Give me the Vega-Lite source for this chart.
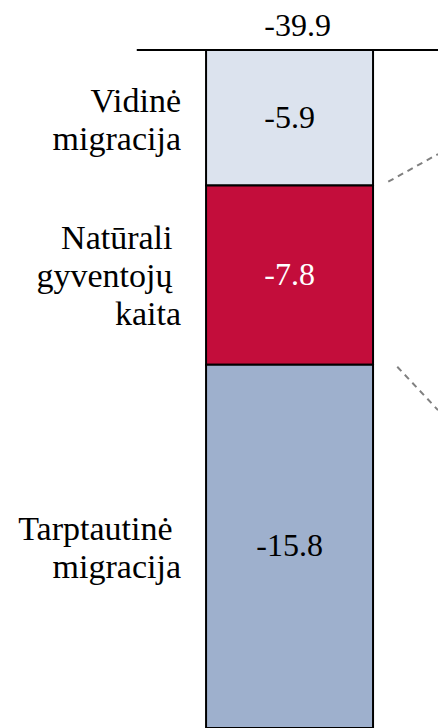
{
  "$schema": "https://vega.github.io/schema/vega-lite/v6.json",
  "width": 438,
  "height": 678,
  "autosize": "none",
  "padding": {"top": 50, "left": 0, "right": 0, "bottom": 0},
  "background": "white",
  "config": {"view": {"stroke": null}, "font": "Liberation Serif"},
  "datasets": {
    "segments": [
      {"cat": "Vidinė migracija", "label": "Vidinė\nmigracija", "value": -5.9, "order": 1},
      {"cat": "Natūrali gyventojų kaita", "label": "Natūrali\u00a0\u200b\ngyventojų\u00a0\u200b\nkaita", "value": -7.8, "order": 2},
      {"cat": "Tarptautinė migracija", "label": "Tarptautinė\u00a0\u200b\nmigracija", "value": -15.8, "order": 3}
    ],
    "total": [{"value": -39.9}],
    "connectors": [
      {"line": "a", "x": 1.091, "y": -5.73},
      {"line": "a", "x": 1.389, "y": -4.53},
      {"line": "b", "x": 1.145, "y": -13.78},
      {"line": "b", "x": 1.389, "y": -15.67}
    ]
  },
  "layer": [
    {
      "data": {"name": "segments"},
      "transform": [
        {"stack": "value", "groupby": [], "sort": [{"field": "order"}], "as": ["v0", "v1"]}
      ],
      "mark": {"type": "bar", "stroke": "black", "strokeWidth": 2},
      "encoding": {
        "x": {"datum": 0, "type": "quantitative", "scale": {"domain": [-1.234, 1.389], "nice": false, "zero": false}, "axis": null},
        "x2": {"datum": 1},
        "y": {"field": "v0", "type": "quantitative", "scale": {"domain": [-29.5, 0], "nice": false}, "axis": null},
        "y2": {"field": "v1"},
        "color": {
          "field": "cat",
          "type": "nominal",
          "scale": {
            "domain": ["Vidinė migracija", "Natūrali gyventojų kaita", "Tarptautinė migracija"],
            "range": ["#DCE3EE", "#C30D3B", "#9EB0CD"]
          },
          "legend": null
        }
      }
    },
    {
      "data": {"name": "segments"},
      "transform": [
        {"stack": "value", "groupby": [], "sort": [{"field": "order"}], "as": ["v0", "v1"]},
        {"fold": ["v0", "v1"], "as": ["k", "pos"]},
        {"aggregate": [{"op": "mean", "field": "pos", "as": "mid"}], "groupby": ["cat", "label", "value"]}
      ],
      "layer": [
        {
          "mark": {"type": "text", "fontSize": 32, "baseline": "middle", "align": "center"},
          "encoding": {
            "x": {"datum": 0.5, "type": "quantitative", "scale": {"domain": [-1.234, 1.389], "nice": false, "zero": false}, "axis": null},
            "y": {"field": "mid", "type": "quantitative", "scale": {"domain": [-29.5, 0], "nice": false}, "axis": null},
            "text": {"field": "value", "type": "nominal"},
            "color": {
              "condition": {"test": "datum.cat === 'Natūrali gyventojų kaita'", "value": "white"},
              "value": "black"
            }
          }
        },
        {
          "transform": [{"filter": "datum.cat !== 'Natūrali gyventojų kaita'"}],
          "mark": {"type": "text", "fontSize": 34, "baseline": "middle", "align": "right", "lineBreak": "\n", "lineHeight": 38, "dy": -16, "color": "black"},
          "encoding": {
            "x": {"datum": -0.15, "type": "quantitative", "scale": {"domain": [-1.234, 1.389], "nice": false, "zero": false}, "axis": null},
            "y": {"field": "mid", "type": "quantitative", "scale": {"domain": [-29.5, 0], "nice": false}, "axis": null},
            "text": {"field": "label", "type": "nominal"}
          }
        },
        {
          "transform": [{"filter": "datum.cat === 'Natūrali gyventojų kaita'"}],
          "mark": {"type": "text", "fontSize": 34, "baseline": "middle", "align": "right", "lineBreak": "\n", "lineHeight": 38, "dy": -36, "color": "black"},
          "encoding": {
            "x": {"datum": -0.15, "type": "quantitative", "scale": {"domain": [-1.234, 1.389], "nice": false, "zero": false}, "axis": null},
            "y": {"field": "mid", "type": "quantitative", "scale": {"domain": [-29.5, 0], "nice": false}, "axis": null},
            "text": {"field": "label", "type": "nominal"}
          }
        }
      ]
    },
    {
      "data": {"name": "total"},
      "mark": {"type": "rule", "color": "black", "strokeWidth": 2},
      "encoding": {
        "x": {"datum": -0.415, "type": "quantitative", "scale": {"domain": [-1.234, 1.389], "nice": false, "zero": false}, "axis": null},
        "x2": {"datum": 1.389},
        "y": {"datum": 0, "type": "quantitative", "scale": {"domain": [-29.5, 0], "nice": false}, "axis": null}
      }
    },
    {
      "data": {"name": "total"},
      "mark": {"type": "text", "fontSize": 32, "baseline": "alphabetic", "align": "center", "dy": -14, "dx": 8, "color": "black"},
      "encoding": {
        "x": {"datum": 0.5, "type": "quantitative", "scale": {"domain": [-1.234, 1.389], "nice": false, "zero": false}, "axis": null},
        "y": {"datum": 0, "type": "quantitative", "scale": {"domain": [-29.5, 0], "nice": false}, "axis": null},
        "text": {"field": "value", "type": "nominal"}
      }
    },
    {
      "data": {"name": "connectors"},
      "mark": {"type": "line", "color": "#808080", "strokeWidth": 2, "strokeDash": [6, 5]},
      "encoding": {
        "x": {"field": "x", "type": "quantitative", "scale": {"domain": [-1.234, 1.389], "nice": false, "zero": false}, "axis": null},
        "y": {"field": "y", "type": "quantitative", "scale": {"domain": [-29.5, 0], "nice": false}, "axis": null},
        "detail": {"field": "line", "type": "nominal"}
      }
    }
  ]
}
